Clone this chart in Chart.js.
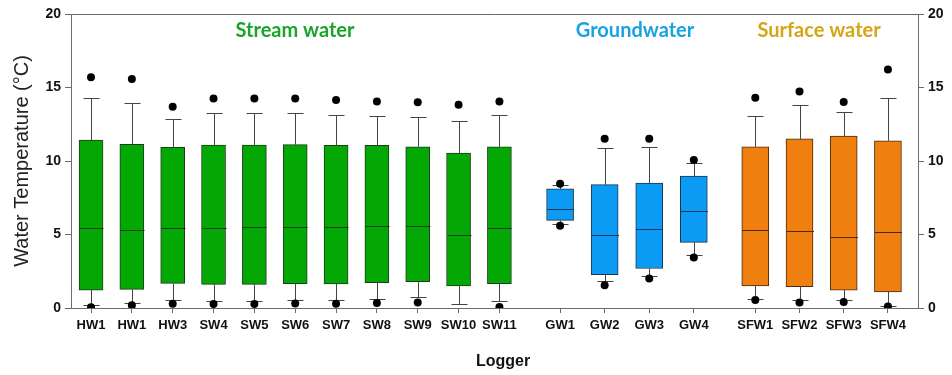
<!DOCTYPE html>
<html>
<head>
<meta charset="utf-8">
<title>Water temperature by logger</title>
<script src="https://cdn.jsdelivr.net/npm/chart.js@4.4.0/dist/chart.umd.min.js"></script>
<style>
  html, body { margin: 0; padding: 0; background: #fff; }
</style>
</head>
<body>
<canvas id="tempChart" width="952" height="375"></canvas>
<script>
// box plot values (deg C)
const streamLabels = ['HW1', 'HW1', 'HW3', 'SW4', 'SW5', 'SW6', 'SW7', 'SW8', 'SW9', 'SW10', 'SW11'];
const streamLow    = [0.20, 0.34, 0.56, 0.50, 0.50, 0.56, 0.56, 0.63, 0.75, 0.27, 0.45];
const streamQ1     = [1.22, 1.27, 1.67, 1.61, 1.61, 1.65, 1.63, 1.72, 1.79, 1.50, 1.65];
const streamMedian = [5.41, 5.28, 5.46, 5.46, 5.48, 5.50, 5.53, 5.58, 5.58, 4.99, 5.44];
const streamQ3     = [11.43, 11.13, 10.93, 11.09, 11.09, 11.11, 11.06, 11.06, 10.97, 10.54, 10.97];
const streamHigh   = [14.26, 13.92, 12.86, 13.24, 13.24, 13.24, 13.13, 13.06, 13.01, 12.74, 13.10];
const streamOutHigh = [15.70, 15.58, 13.69, 14.26, 14.26, 14.26, 14.15, 14.05, 13.99, 13.83, 14.05];
const streamOutLow  = [0.05, 0.18, 0.29, 0.27, 0.27, 0.31, 0.29, 0.34, 0.38, null, 0.07];

const gwLabels  = ['GW1', 'GW2', 'GW3', 'GW4'];
const gwLow     = [5.73, 1.84, 2.20, 3.63];
const gwQ1      = [5.96, 2.27, 2.69, 4.46];
const gwMedian  = [6.76, 4.97, 5.37, 6.57];
const gwQ3      = [8.10, 8.39, 8.50, 8.98];
const gwHigh    = [8.34, 10.88, 10.95, 9.84];
const gwOutHigh = [8.46, 11.52, 11.52, 10.07];
const gwOutLow  = [5.60, 1.54, 2.01, 3.44];

const sfLabels  = ['SFW1', 'SFW2', 'SFW3', 'SFW4'];
const sfLow     = [0.63, 0.52, 0.52, 0.16];
const sfQ1      = [1.50, 1.45, 1.22, 1.09];
const sfMedian  = [5.33, 5.21, 4.83, 5.14];
const sfQ3      = [10.97, 11.50, 11.70, 11.38];
const sfHigh    = [13.08, 13.81, 13.35, 14.31];
const sfOutHigh = [14.31, 14.73, 14.01, 16.23];
const sfOutLow  = [0.54, 0.38, 0.41, 0.10];

const yTicks = [0, 5, 10, 15, 20];

const FONT = '"Liberation Sans", Arial, sans-serif';
const AXIS_GREY = '#6b6b6b';

const groups = [
  { id: 'x1', labels: streamLabels, low: streamLow, q1: streamQ1, med: streamMedian, q3: streamQ3, high: streamHigh,
    outHigh: streamOutHigh, outLow: streamOutLow, fill: '#04a804', edge: '#1d3a1d', thick: 24,
    min: -0.49, max: 10.70, weight: 457, title: 'Stream water', titleColor: '#1aa42b', titleX: 295 },
  { id: 'x2', labels: gwLabels, low: gwLow, q1: gwQ1, med: gwMedian, q3: gwQ3, high: gwHigh,
    outHigh: gwOutHigh, outLow: gwOutLow, fill: '#0c9bf4', edge: '#1a3550', thick: 27,
    min: -0.72, max: 3.70, weight: 197, title: 'Groundwater', titleColor: '#18a2e2', titleX: 635 },
  { id: 'x3', labels: sfLabels, low: sfLow, q1: sfQ1, med: sfMedian, q3: sfQ3, high: sfHigh,
    outHigh: sfOutHigh, outLow: sfOutLow, fill: '#ef7f0e', edge: '#4a2a10', thick: 27,
    min: -0.685, max: 3.68, weight: 193, title: 'Surface water', titleColor: '#d5a516', titleX: 819 }
];

// outlier dots first so they are painted on top of boxes and whiskers
const outlierSets = groups.map(g => ({
  type: 'scatter',
  xAxisID: g.id,
  yAxisID: 'y',
  data: g.labels.flatMap((_, i) =>
    [g.outHigh[i], g.outLow[i]].filter(v => v != null).map(v => ({ x: i, y: v }))),
  pointRadius: 4,
  pointBackgroundColor: '#000',
  pointBorderWidth: 0
}));

const boxSets = groups.map(g => ({
  type: 'bar',
  xAxisID: g.id,
  yAxisID: 'y',
  boxGroup: g,
  data: g.labels.map((_, i) => ({ x: i, y: [g.q1[i], g.q3[i]] })),
  backgroundColor: g.fill,
  borderColor: g.edge,
  borderWidth: 1,
  borderSkipped: false,
  barThickness: g.thick,
  grouped: false
}));

function crisp(v) { return Math.round(v) + 0.5; }

const whiskerPlugin = {
  id: 'whiskers',
  afterDatasetDraw(chart, args) {
    const g = chart.data.datasets[args.index].boxGroup;
    if (!g) return;
    const ctx = chart.ctx;
    const xs = chart.scales[g.id];
    const ys = chart.scales.y;
    ctx.save();
    ctx.lineWidth = 1;
    g.labels.forEach((_, i) => {
      const x = crisp(xs.getPixelForValue(i));
      const cap = 8;
      const half = g.thick / 2;
      const yHigh = crisp(ys.getPixelForValue(g.high[i]));
      const yLow = crisp(ys.getPixelForValue(g.low[i]));
      const yQ1 = ys.getPixelForValue(g.q1[i]);
      const yQ3 = ys.getPixelForValue(g.q3[i]);
      const yMed = crisp(ys.getPixelForValue(g.med[i]));
      ctx.strokeStyle = '#444';
      ctx.beginPath();
      ctx.moveTo(x, yQ3); ctx.lineTo(x, yHigh);
      ctx.moveTo(x - cap, yHigh); ctx.lineTo(x + cap, yHigh);
      ctx.moveTo(x, yQ1); ctx.lineTo(x, yLow);
      ctx.moveTo(x - cap, yLow); ctx.lineTo(x + cap, yLow);
      ctx.stroke();
      ctx.strokeStyle = g.edge;
      ctx.beginPath();
      ctx.moveTo(x - half, yMed); ctx.lineTo(x + half, yMed);
      ctx.stroke();
    });
    ctx.restore();
  },
  afterDraw(chart) {
    const ctx = chart.ctx;
    const area = chart.chartArea;
    ctx.save();
    // top frame line
    ctx.strokeStyle = AXIS_GREY;
    ctx.lineWidth = 1;
    ctx.beginPath();
    ctx.moveTo(area.left, crisp(area.top));
    ctx.lineTo(area.right, crisp(area.top));
    ctx.stroke();
    // group headings
    ctx.textAlign = 'center';
    ctx.textBaseline = 'middle';
    ctx.font = 'bold 20px Lato, "Open Sans", sans-serif';
    groups.forEach(g => {
      ctx.fillStyle = g.titleColor;
      ctx.fillText(g.title, g.titleX, 31);
    });
    // x axis title
    ctx.fillStyle = '#111';
    ctx.font = 'bold 16px ' + FONT;
    ctx.fillText('Logger', 503, 362);
    ctx.restore();
  }
};

function xScale(g) {
  return {
    type: 'linear',
    position: 'bottom',
    stack: 'logger',
    stackWeight: g.weight,
    offset: false,
    min: g.min,
    max: g.max,
    afterBuildTicks: s => { s.ticks = g.labels.map((_, i) => ({ value: i })); },
    afterFit: s => { s.height = 67; },
    ticks: {
      autoSkip: false,
      maxRotation: 0,
      padding: 5,
      color: '#111',
      font: { family: FONT, weight: 'bold', size: 13 },
      callback: v => g.labels[v]
    },
    grid: { offset: false, drawOnChartArea: false, tickLength: 5, color: AXIS_GREY },
    border: { color: AXIS_GREY }
  };
}

function yScale(position, width, withTitle) {
  return {
    type: 'linear',
    position: position,
    min: 0,
    max: 20,
    afterBuildTicks: s => { s.ticks = yTicks.map(v => ({ value: v })); },
    afterFit: s => { s.width = width; },
    ticks: {
      padding: 4,
      color: '#111',
      font: { family: FONT, weight: 'bold', size: 14 }
    },
    grid: { drawOnChartArea: false, tickLength: 6, color: AXIS_GREY },
    border: { color: AXIS_GREY },
    title: {
      display: withTitle,
      text: 'Water Temperature (°C)',
      color: '#222',
      font: { family: FONT, size: 20 },
      padding: { top: 10, bottom: 0 }
    }
  };
}

const scales = { y: yScale('left', 71, true), y2: yScale('right', 34, false) };
groups.forEach(g => { scales[g.id] = xScale(g); });

const config = {
  data: { datasets: [...outlierSets, ...boxSets] },
  options: {
    responsive: false,
    animation: false,
    layout: { padding: { top: 14, right: 0, bottom: 0, left: 0 } },
    plugins: { legend: { display: false }, tooltip: { enabled: false } },
    scales: scales
  },
  plugins: [whiskerPlugin]
};

const tempChart = new Chart(document.getElementById('tempChart'), config);
</script>
</body>
</html>
